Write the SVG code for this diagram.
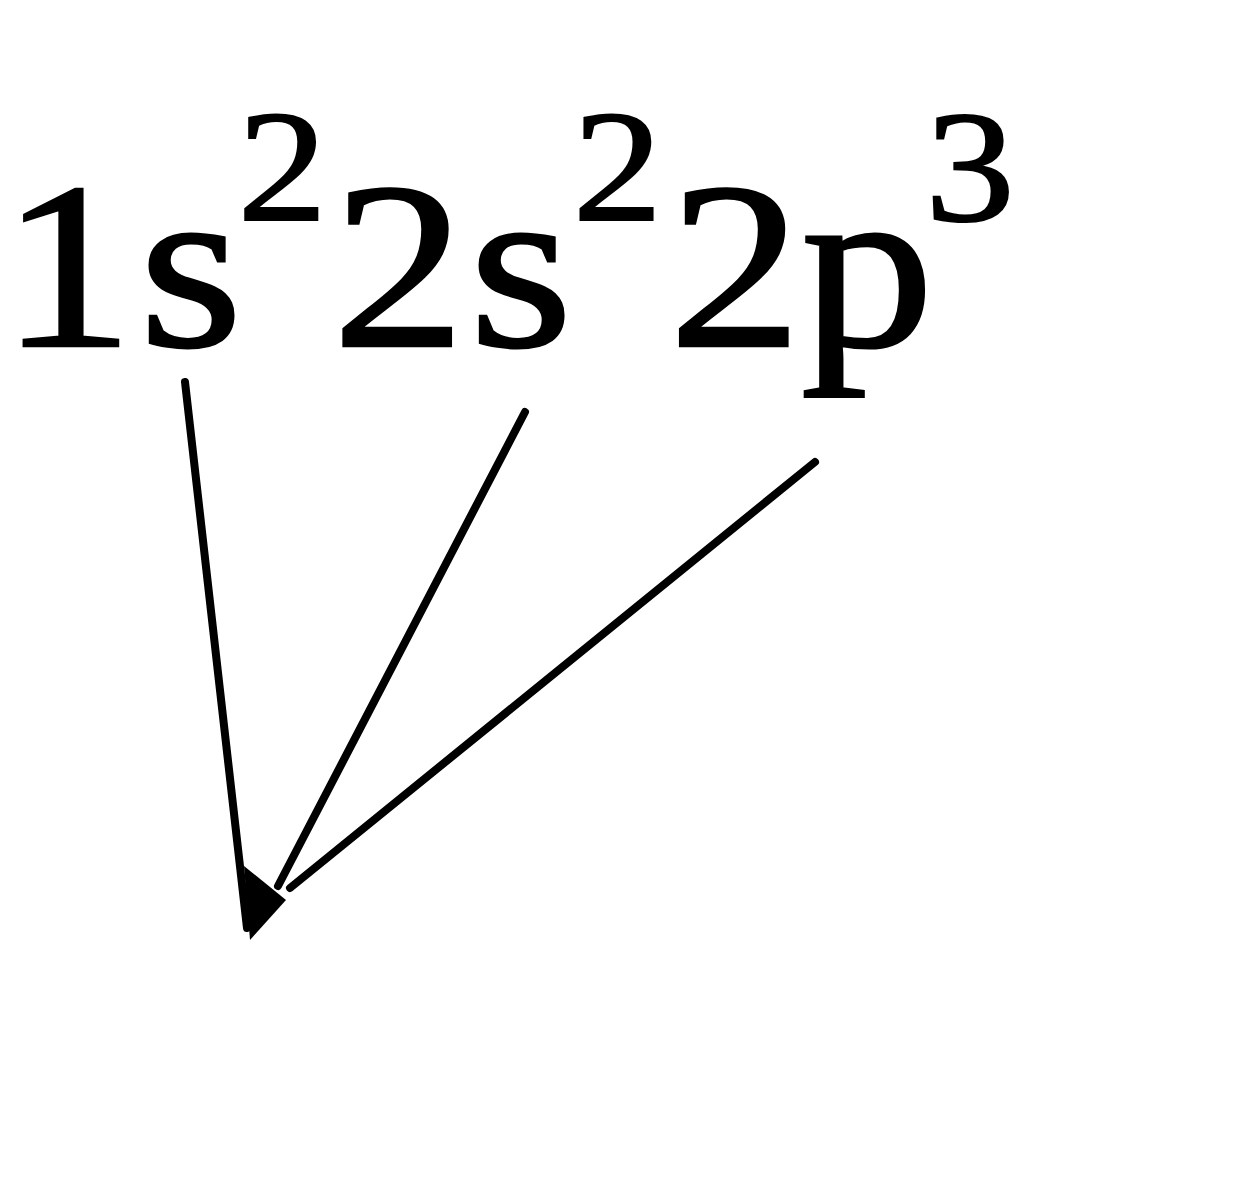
<svg xmlns="http://www.w3.org/2000/svg" width="1245" height="1200" viewBox="0 0 1245 1200">
<style>
.main{font-family:"Liberation Serif","Times New Roman",serif;font-size:238px;fill:#000;stroke:#000;stroke-width:2.5}
.sup{font-family:"Liberation Serif","Times New Roman",serif;font-size:160px;fill:#000;stroke:#000;stroke-width:2}
.conn{stroke:#000;stroke-width:8;fill:none;stroke-linecap:round;stroke-linejoin:round}
</style>
<rect width="1245" height="1200" fill="#fff"/>
<g id="configuration" transform="scale(1.12,1)">
<text class="main" y="346"><tspan x="0.5">1</tspan><tspan x="124.1">s</tspan><tspan x="296.5">2</tspan><tspan x="418.8">s</tspan><tspan x="597">2</tspan><tspan x="715">p</tspan></text>
<text class="sup" y="220"><tspan x="212.1">2</tspan><tspan x="511.3">2</tspan><tspan x="826.2">3</tspan></text>
</g>
<g id="connectors">
<path class="conn" d="M185,382 L247,928"/>
<path class="conn" d="M525,412 L278,886"/>
<path class="conn" d="M815,462 L290,888"/>
<polygon points="244,866 286,900 250,940" fill="#000"/>
</g>
</svg>
